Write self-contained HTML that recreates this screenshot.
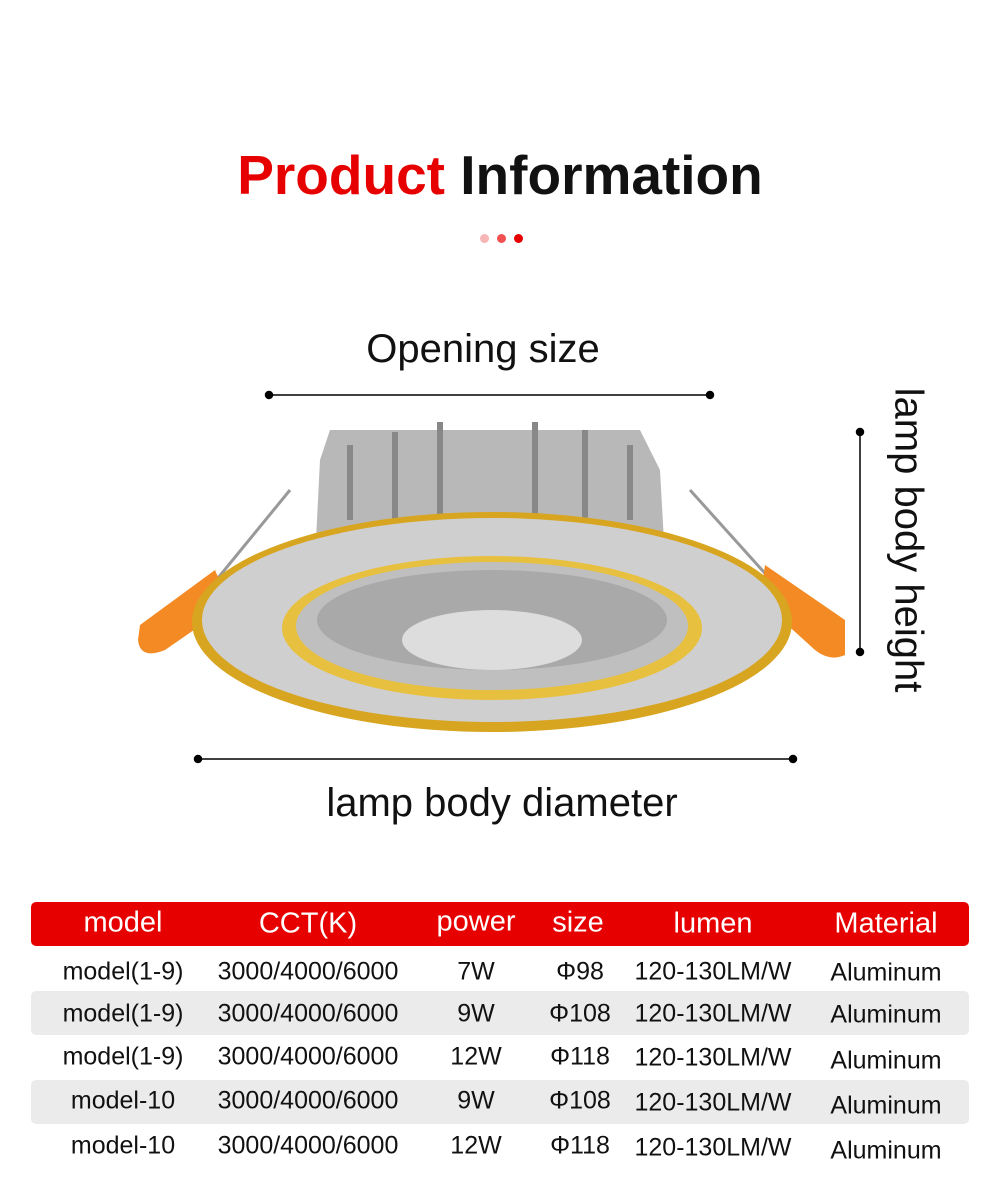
<!DOCTYPE html><html><head><style>
body{margin:0;width:1000px;height:1194px;background:#fff;position:relative;font-family:"Liberation Sans",sans-serif;overflow:hidden}
.a{position:absolute;white-space:nowrap}
.t{position:absolute;transform:translate(-50%,-50%);white-space:nowrap;font-size:25px;color:#111}
.h{color:#fff;font-size:29px}
</style></head><body>
<div class="a" style="left:0;width:1000px;top:143px;text-align:center;font-size:55px;font-weight:bold;color:#111"><span style="color:#e60000">Product</span> Information</div>
<div class="a" style="left:480px;top:234px;width:9px;height:9px;border-radius:50%;background:#f7b5b5"></div>
<div class="a" style="left:497px;top:234px;width:9px;height:9px;border-radius:50%;background:#f05050"></div>
<div class="a" style="left:514px;top:234px;width:9px;height:9px;border-radius:50%;background:#e60000"></div>
<div class="a" style="left:0;width:966px;top:327px;text-align:center;font-size:40px;color:#111">Opening size</div>
<div class="a" style="left:0;width:1004px;top:781px;text-align:center;font-size:40px;color:#111">lamp body diameter</div>
<div class="a" style="left:908px;top:540px;font-size:40px;color:#111;transform:translate(-50%,-50%) rotate(90deg)">lamp body height</div>
<svg class="a" style="left:0;top:0" width="1000" height="880">
<g fill="#000" stroke="#000" stroke-width="1.5">
<line x1="269" y1="395" x2="710" y2="395"/><circle cx="269" cy="395" r="3.5"/><circle cx="710" cy="395" r="3.5"/>
<line x1="198" y1="759" x2="793" y2="759"/><circle cx="198" cy="759" r="3.5"/><circle cx="793" cy="759" r="3.5"/>
<line x1="860" y1="432" x2="860" y2="652"/><circle cx="860" cy="432" r="3.5"/><circle cx="860" cy="652" r="3.5"/>
</g>
<path d="M320 460 L330 430 L640 430 L660 470 L665 560 L315 560Z" fill="#b8b8b8"/>
<g stroke="#888" stroke-width="6"><line x1="350" y1="445" x2="350" y2="520"/><line x1="395" y1="432" x2="395" y2="520"/><line x1="440" y1="422" x2="440" y2="520"/><line x1="535" y1="422" x2="535" y2="520"/><line x1="585" y1="430" x2="585" y2="520"/><line x1="630" y1="445" x2="630" y2="520"/></g>
<line x1="290" y1="490" x2="200" y2="600" stroke="#999" stroke-width="3"/>
<line x1="690" y1="490" x2="780" y2="590" stroke="#999" stroke-width="3"/>
<path d="M140 625 L215 570 L230 605 L165 650 Q140 660 138 640Z" fill="#f38a24"/>
<path d="M765 565 L845 620 L845 655 Q830 662 815 650 L760 600Z" fill="#f38a24"/>
<ellipse cx="492" cy="622" rx="300" ry="110" fill="#d8a520"/>
<ellipse cx="492" cy="620" rx="290" ry="102" fill="#cfcfcf"/>
<ellipse cx="492" cy="628" rx="210" ry="72" fill="#e8c040"/>
<ellipse cx="492" cy="626" rx="196" ry="64" fill="#bfbfbf"/>
<ellipse cx="492" cy="620" rx="175" ry="50" fill="#a9a9a9"/>
<ellipse cx="492" cy="640" rx="90" ry="30" fill="#ddd"/>
</svg>
<div class="a" style="left:31px;top:902px;width:938px;height:44px;background:#e60000;border-radius:5px"></div>
<div class="a" style="left:31px;top:991px;width:938px;height:44px;background:#ebebeb;border-radius:5px"></div>
<div class="a" style="left:31px;top:1080px;width:938px;height:44px;background:#ebebeb;border-radius:5px"></div>
<div class="t h" style="left:123px;top:923px">model</div><div class="t h" style="left:308px;top:924px">CCT(K)</div><div class="t h" style="left:476px;top:922px">power</div><div class="t h" style="left:578px;top:923px">size</div><div class="t h" style="left:713px;top:924px">lumen</div><div class="t h" style="left:886px;top:924px">Material</div>
<div class="t" style="left:123px;top:972px">model(1-9)</div><div class="t" style="left:308px;top:972px">3000/4000/6000</div><div class="t" style="left:476px;top:972px">7W</div><div class="t" style="left:580px;top:972px">Φ98</div><div class="t" style="left:713px;top:972px">120-130LM/W</div><div class="t" style="left:886px;top:973px">Aluminum</div>
<div class="t" style="left:123px;top:1014px">model(1-9)</div><div class="t" style="left:308px;top:1014px">3000/4000/6000</div><div class="t" style="left:476px;top:1014px">9W</div><div class="t" style="left:580px;top:1014px">Φ108</div><div class="t" style="left:713px;top:1014px">120-130LM/W</div><div class="t" style="left:886px;top:1015px">Aluminum</div>
<div class="t" style="left:123px;top:1057px">model(1-9)</div><div class="t" style="left:308px;top:1057px">3000/4000/6000</div><div class="t" style="left:476px;top:1057px">12W</div><div class="t" style="left:580px;top:1057px">Φ118</div><div class="t" style="left:713px;top:1058px">120-130LM/W</div><div class="t" style="left:886px;top:1061px">Aluminum</div>
<div class="t" style="left:123px;top:1101px">model-10</div><div class="t" style="left:308px;top:1101px">3000/4000/6000</div><div class="t" style="left:476px;top:1101px">9W</div><div class="t" style="left:580px;top:1101px">Φ108</div><div class="t" style="left:713px;top:1103px">120-130LM/W</div><div class="t" style="left:886px;top:1106px">Aluminum</div>
<div class="t" style="left:123px;top:1146px">model-10</div><div class="t" style="left:308px;top:1146px">3000/4000/6000</div><div class="t" style="left:476px;top:1146px">12W</div><div class="t" style="left:580px;top:1146px">Φ118</div><div class="t" style="left:713px;top:1148px">120-130LM/W</div><div class="t" style="left:886px;top:1151px">Aluminum</div>
</body></html>
